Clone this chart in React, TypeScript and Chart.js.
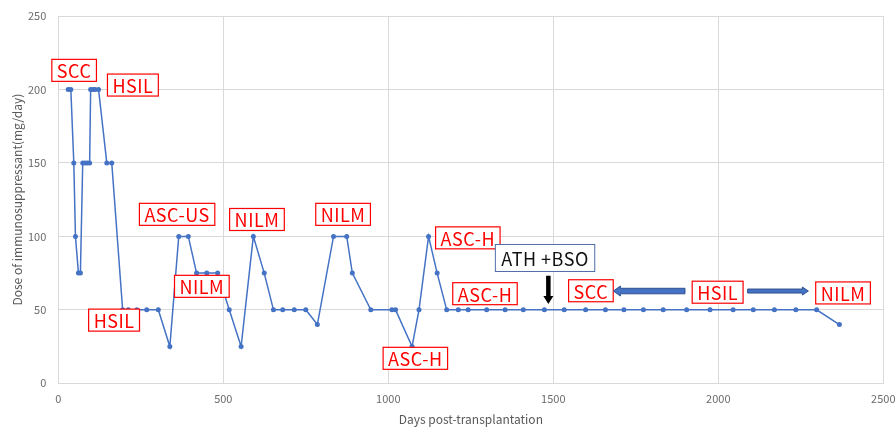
import { useEffect, useRef } from "react";
import { Chart, registerables } from "chart.js";

Chart.register(...registerables);

// Data series: days post-transplantation vs dose (mg/day)
const days = [
  30, 38, 47, 52, 61, 67, 74, 81, 88, 95,
  98, 105, 112, 122, 147, 162, 195, 212, 238, 268,
  303, 338, 365, 394, 419, 450, 483, 518, 554, 591,
  624, 652, 680, 715, 750, 785, 834, 874, 891, 947,
  1011, 1022, 1072, 1093, 1122, 1148, 1177, 1212, 1242, 1298,
  1354, 1409, 1473, 1533, 1598, 1658, 1714, 1773, 1833, 1904,
  1975, 2045, 2106, 2170, 2235, 2298, 2367,
];
const doses = [
  200, 200, 150, 100, 75, 75, 150, 150, 150, 150,
  200, 200, 200, 200, 150, 150, 50, 50, 50, 50,
  50, 25, 100, 100, 75, 75, 75, 50, 25, 100,
  75, 50, 50, 50, 50, 40, 100, 100, 75, 50,
  50, 50, 25, 50, 100, 75, 50, 50, 50, 50,
  50, 50, 50, 50, 50, 50, 50, 50, 50, 50,
  50, 50, 50, 50, 50, 50, 40,
];

const xTicks = [0, 500, 1000, 1500, 2000, 2500];
const yTicks = [0, 50, 100, 150, 200, 250];

// Cytology labels (red boxes), anchored at their centres in data coordinates
const labelTexts = ["SCC", "HSIL", "ASC-US", "NILM", "NILM", "HSIL", "NILM", "ASC-H", "ASC-H", "ASC-H", "SCC", "HSIL", "NILM"];
const labelDays = [48, 226, 360, 602, 435, 169, 863, 1241, 1082, 1293, 1614, 1998, 2378];
const labelDoses = [213, 203, 115, 111.5, 66, 43, 115, 99, 17, 61, 63, 62, 61.5];

// Surgery note
const noteText = "ATH +BSO";
const noteDay = 1475;
const noteDose = 85.3;

// Arrows: [startDay, startDose, endDay, endDose]
const arrowStartDays = [1485, 1899, 2089];
const arrowStartDoses = [73.2, 62.8, 62.8];
const arrowEndDays = [1485, 1682, 2273];
const arrowEndDoses = [54, 62.8, 62.8];

const FONT = '"Noto Sans CJK JP", "Noto Sans", sans-serif';

function drawArrow(
  ctx: CanvasRenderingContext2D,
  x1: number, y1: number, x2: number, y2: number,
  shaft: number, headW: number, headL: number,
  fill: string, stroke: string | null
) {
  const len = Math.hypot(x2 - x1, y2 - y1);
  const ang = Math.atan2(y2 - y1, x2 - x1);
  ctx.save();
  ctx.translate(x1, y1);
  ctx.rotate(ang);
  ctx.beginPath();
  ctx.moveTo(0, -shaft / 2);
  ctx.lineTo(len - headL, -shaft / 2);
  ctx.lineTo(len - headL, -headW / 2);
  ctx.lineTo(len, 0);
  ctx.lineTo(len - headL, headW / 2);
  ctx.lineTo(len - headL, shaft / 2);
  ctx.lineTo(0, shaft / 2);
  ctx.closePath();
  ctx.fillStyle = fill;
  ctx.fill();
  if (stroke) {
    ctx.strokeStyle = stroke;
    ctx.lineWidth = 1;
    ctx.stroke();
  }
  ctx.restore();
}

const annotationPlugin = {
  id: "annotations",
  afterDatasetsDraw(chart: any) {
    const ctx: CanvasRenderingContext2D = chart.ctx;
    const xs = chart.scales.x;
    const ys = chart.scales.y;
    ctx.save();
    ctx.font = `18px ${FONT}`;
    ctx.textAlign = "center";
    ctx.textBaseline = "middle";
    try { (ctx as any).letterSpacing = "0.5px"; } catch (e) { /* ignore */ }
    labelTexts.forEach((t, i) => {
      const cx = xs.getPixelForValue(labelDays[i]);
      const cy = ys.getPixelForValue(labelDoses[i]);
      const w = ctx.measureText(t).width + 10;
      const h = 22;
      ctx.fillStyle = "#ffffff";
      ctx.fillRect(cx - w / 2, cy - h / 2, w, h);
      ctx.strokeStyle = "#ff0000";
      ctx.lineWidth = 1.2;
      ctx.strokeRect(cx - w / 2, cy - h / 2, w, h);
      ctx.fillStyle = "#ff0000";
      ctx.fillText(t, cx, cy + 1);
    });
    // note box
    {
      const cx = xs.getPixelForValue(noteDay);
      const cy = ys.getPixelForValue(noteDose);
      const w = ctx.measureText(noteText).width + 12;
      const h = 27;
      ctx.fillStyle = "#ffffff";
      ctx.fillRect(cx - w / 2, cy - h / 2, w, h);
      ctx.strokeStyle = "#4f6ea6";
      ctx.lineWidth = 1;
      ctx.strokeRect(cx - w / 2, cy - h / 2, w, h);
      ctx.fillStyle = "#111111";
      ctx.fillText(noteText, cx, cy + 1);
    }
    // arrows
    const styles = [
      { shaft: 4.5, headW: 10, headL: 8, fill: "#000000", stroke: null },
      { shaft: 5.5, headW: 10, headL: 7, fill: "#4472C4", stroke: "#2F528F" },
      { shaft: 4, headW: 8, headL: 6, fill: "#4472C4", stroke: "#2F528F" },
    ];
    arrowStartDays.forEach((d, i) => {
      const s = styles[i];
      drawArrow(
        ctx,
        xs.getPixelForValue(d), ys.getPixelForValue(arrowStartDoses[i]),
        xs.getPixelForValue(arrowEndDays[i]), ys.getPixelForValue(arrowEndDoses[i]),
        s.shaft, s.headW, s.headL, s.fill, s.stroke
      );
    });
    ctx.restore();
  },
};

export default function App() {
  const canvasRef = useRef<HTMLCanvasElement | null>(null);

  useEffect(() => {
    document.body.style.margin = "0";
    const canvas = canvasRef.current;
    if (!canvas) return;
    const chart = new Chart(canvas, {
      type: "line",
      data: {
        datasets: [
          {
            data: days.map((d, i) => ({ x: d, y: doses[i] })),
            borderColor: "#4472C4",
            backgroundColor: "#4472C4",
            borderWidth: 1.5,
            pointRadius: 2.5,
            pointBorderWidth: 0,
            pointBackgroundColor: "#4472C4",
            tension: 0,
          },
        ],
      },
      options: {
        animation: false,
        responsive: true,
        maintainAspectRatio: false,
        layout: { padding: { top: 16, right: 12.7, left: 0, bottom: 0 } },
        plugins: {
          legend: { display: false },
          tooltip: { enabled: false },
        },
        scales: {
          x: {
            type: "linear",
            min: 0,
            max: 2500,
            afterBuildTicks: (scale: any) => {
              scale.ticks = xTicks.map((v) => ({ value: v }));
            },
            afterFit: (scale: any) => {
              scale.height = 43.7;
              scale.paddingLeft = 0;
              scale.paddingRight = 0;
            },
            grid: { color: "#d9d9d9", drawTicks: false, lineWidth: 1 },
            border: { color: "#d9d9d9" },
            ticks: {
              padding: 9,
              color: "#6b6b6b",
              font: { family: FONT, size: 11 },
              maxRotation: 0,
              callback: (v: any) => String(v),
            },
            title: {
              display: true,
              text: "Days post-transplantation",
              color: "#595959",
              font: { family: FONT, size: 12 },
              padding: { top: 0, bottom: 0 },
            },
          },
          y: {
            type: "linear",
            min: 0,
            max: 250,
            afterBuildTicks: (scale: any) => {
              scale.ticks = yTicks.map((v) => ({ value: v }));
            },
            afterFit: (scale: any) => {
              scale.width = 58.3;
              scale.paddingTop = 0;
              scale.paddingBottom = 0;
            },
            grid: { color: "#d9d9d9", drawTicks: false, lineWidth: 1 },
            border: { color: "#d9d9d9" },
            ticks: {
              padding: 12,
              color: "#6b6b6b",
              font: { family: FONT, size: 11 },
              callback: (v: any) => String(v),
            },
            title: {
              display: true,
              text: "Dose of immunosuppressant(mg/day)",
              color: "#595959",
              font: { family: FONT, size: 12 },
              padding: { top: 10, bottom: 0 },
            },
          },
        },
      },
      plugins: [annotationPlugin],
    });
    return () => chart.destroy();
  }, []);

  return (
    <div style={{ width: "896px", height: "427px", position: "relative" }}>
      <canvas ref={canvasRef} />
    </div>
  );
}
